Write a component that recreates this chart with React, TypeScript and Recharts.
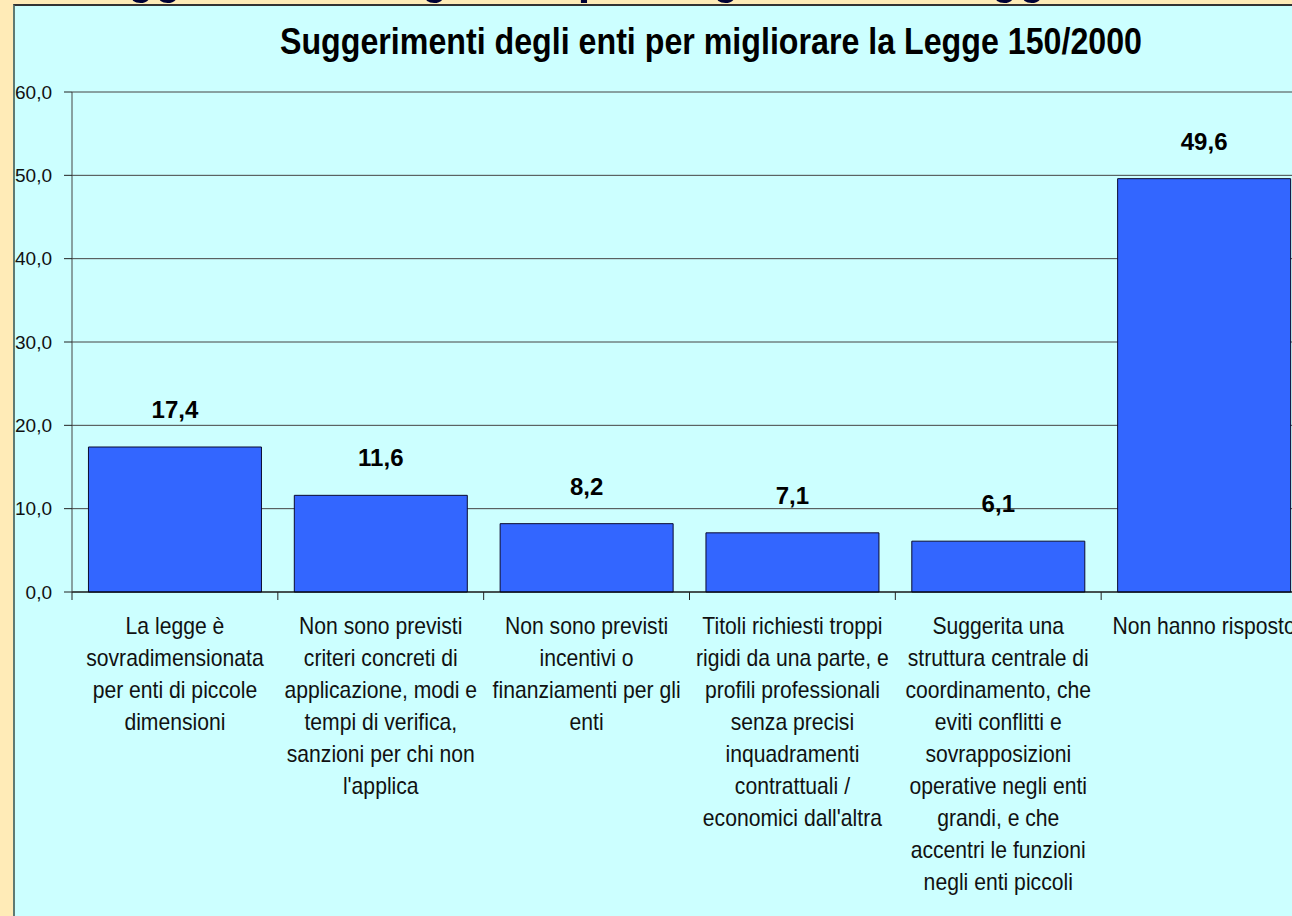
import React from "react";
import { BarChart, Bar, XAxis, YAxis, CartesianGrid, LabelList } from "recharts";

const categories = [
  "La legge è\nsovradimensionata\nper enti di piccole\ndimensioni",
  "Non sono previsti\ncriteri concreti di\napplicazione, modi e\ntempi di verifica,\nsanzioni per chi non\nl'applica",
  "Non sono previsti\nincentivi o\nfinanziamenti per gli\nenti",
  "Titoli richiesti troppi\nrigidi da una parte, e\nprofili professionali\nsenza precisi\ninquadramenti\ncontrattuali /\neconomici dall'altra",
  "Suggerita una\nstruttura centrale di\ncoordinamento, che\neviti conflitti e\nsovrapposizioni\noperative negli enti\ngrandi, e che\naccentri le funzioni\nnegli enti piccoli",
  "Non hanno risposto",
];
const percentages = [17.4, 11.6, 8.2, 7.1, 6.1, 49.6];
const yTicks = [0, 10, 20, 30, 40, 50, 60];

const title = "Suggerimenti degli enti per migliorare la Legge 150/2000";

const data = categories.map((name, i) => ({ name, value: percentages[i] }));

const font = "'Liberation Sans', Arial, sans-serif";
const comma = (v: number) => v.toFixed(1).replace(".", ",");

function CategoryTick(props: any) {
  const { x, y, payload, index, visibleTicksCount, width } = props;
  const band = payload && payload.offset ? payload.offset * 2 : width / visibleTicksCount;
  const lines = String(payload.value).split("\n");
  return (
    <g>
      <line x1={x - band / 2} y1={y - 8} x2={x - band / 2} y2={y} stroke="#222" />
      {index === visibleTicksCount - 1 && (
        <line x1={x + band / 2} y1={y - 8} x2={x + band / 2} y2={y} stroke="#222" />
      )}
      <g transform={`translate(${x},${y + 2})`}>
        <text transform="scale(0.92,1)" textAnchor="middle" fontSize={23} fill="#111" fontFamily={font}>
          {lines.map((line, i) => (
            <tspan key={i} x={0} dy={32}>
              {line}
            </tspan>
          ))}
        </text>
      </g>
    </g>
  );
}

export default function App() {
  return (
    <div
      style={{
        position: "fixed",
        left: 0,
        top: 0,
        width: 1292,
        height: 916,
        overflow: "hidden",
        background: "#FFEBB7",
      }}
    >
      <svg width={1292} height={8} style={{ position: "absolute", left: 0, top: 0 }}>
        <text
          x={70}
          y={-9}
          fontSize={60}
          fontWeight="bold"
          fill="#000033"
          fontFamily={font}
          textLength={1200}
          lengthAdjust="spacingAndGlyphs"
        >
          {title}
        </text>
      </svg>
      <div
        style={{
          position: "absolute",
          left: 13,
          top: 4,
          width: 1400,
          height: 1000,
          background: "#CCFFFF",
          borderTop: "2px solid #333",
          borderLeft: "2px solid #5f7a72",
        }}
      />
      <svg width={1292} height={80} style={{ position: "absolute", left: 0, top: 0 }}>
        <text
          x={711}
          y={54}
          textAnchor="middle"
          fontSize={36}
          fontWeight="bold"
          fill="#000"
          fontFamily={font}
          textLength={862}
          lengthAdjust="spacingAndGlyphs"
        >
          {title}
        </text>
      </svg>
      <div style={{ position: "absolute", left: 0, top: 0 }}>
        <BarChart
          width={1307}
          height={916}
          data={data}
          margin={{ top: 92, right: 0, bottom: 0, left: 0 }}
          barCategoryGap="8%"
        >
          <CartesianGrid vertical={false} stroke="#444" />
          <XAxis
            dataKey="name"
            interval={0}
            height={324}
            tickSize={8}
            tickMargin={0}
            tickLine={false}
            axisLine={{ stroke: "#000" }}
            tick={<CategoryTick />}
          />
          <YAxis
            width={72}
            domain={[0, 60]}
            ticks={yTicks}
            tickSize={8}
            tickMargin={12}
            tickFormatter={comma}
            axisLine={{ stroke: "#444" }}
            tickLine={{ stroke: "#222" }}
            tick={{ fontSize: 19, fill: "#111", fontFamily: font }}
          />
          <Bar dataKey="value" fill="#3366FF" stroke="#0a0a30" strokeWidth={1} isAnimationActive={false}>
            <LabelList
              dataKey="value"
              position="top"
              offset={29}
              formatter={(v: any) => comma(Number(v))}
              fill="#000"
              fontSize={24}
              fontWeight="bold"
              fontFamily={font}
            />
          </Bar>
        </BarChart>
      </div>
    </div>
  );
}
